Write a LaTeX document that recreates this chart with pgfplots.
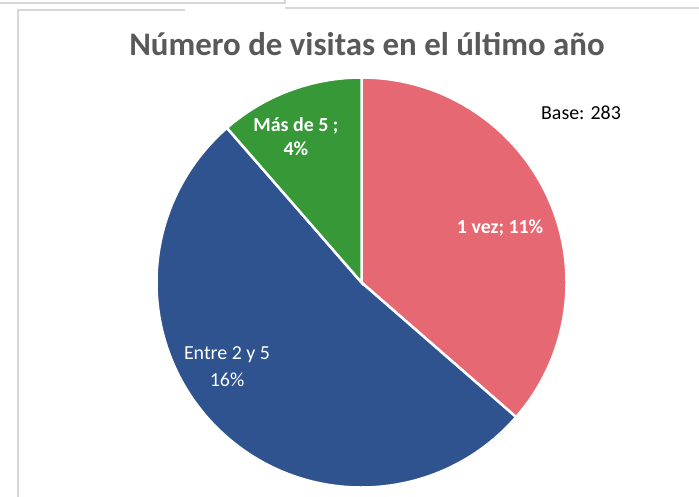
\documentclass[border=0pt]{standalone}
\usepackage{pgfplots}
\pgfplotsset{compat=1.18}
\usepackage{pgfplotstable}
\usepackage{fontspec}
\setmainfont{Carlito}
\definecolor{cRed}{RGB}{230,104,114}
\definecolor{cBlue}{RGB}{47,83,143}
\definecolor{cGreen}{RGB}{55,152,55}
\definecolor{cTitle}{RGB}{89,89,89}
\definecolor{cFrame}{RGB}{215,215,215}

% shares of the pie (percent of the circle), as drawn
\pgfplotstableread{
share
36.4
52.2
11.4
}\pietable

\pgfplotstablegetelem{0}{share}\of\pietable \let\vA\pgfplotsretval
\pgfplotstablegetelem{1}{share}\of\pietable \let\vB\pgfplotsretval
\pgfplotstablegetelem{2}{share}\of\pietable \let\vC\pgfplotsretval
\pgfmathsetmacro{\aA}{90-3.6*\vA}
\pgfmathsetmacro{\aB}{\aA-3.6*\vB}
\pgfmathsetmacro{\aC}{\aB-3.6*\vC}

\begin{document}
\begin{tikzpicture}[x=1bp,y=1bp]
\path[use as bounding box] (0,0) rectangle (699,-497);
% frame lines
\draw[cFrame, line width=1.2bp] (0,-3) -- (285,-3) -- (285,0);
\draw[cFrame, line width=1.2bp] (285,-8) -- (699,-8);
\draw[cFrame, line width=1.2bp] (185,-10) -- (18,-10) -- (18,-497);
% title
\node[anchor=base, text=cTitle, font=\fontsize{33}{38}\selectfont\bfseries, inner sep=0pt] at (367,-56) {Número de visitas en el último año};
\node[anchor=base, text=black, font=\fontsize{20}{24}\selectfont, inner sep=0pt] at (581,-120) {Base: 283};
\begin{axis}[at={(361.5bp,-282.5bp)}, anchor=center, width=410bp, height=410bp,
  scale only axis, xmin=-1, xmax=1, ymin=-1, ymax=1, hide axis, clip=false]
\addplot[draw=none] coordinates {(-1,-1) (1,1)};
\fill[cRed, draw=white, line width=2.5bp] (axis cs:0,0) -- (axis cs:0,1) arc[start angle=90, end angle=\aA, radius=205bp] -- cycle;
\fill[cBlue, draw=white, line width=2.5bp] (axis cs:0,0) -- (axis cs:{cos(\aA)},{sin(\aA)}) arc[start angle=\aA, end angle=\aB, radius=205bp] -- cycle;
\fill[cGreen, draw=white, line width=2.5bp] (axis cs:0,0) -- (axis cs:{cos(\aB)},{sin(\aB)}) arc[start angle=\aB, end angle=\aC, radius=205bp] -- cycle;
\node[text=white, font=\fontsize{20}{24}\selectfont\bfseries, align=center] at (axis cs:0.676,0.266) {1 vez; 11\%};
\node[text=white, font=\fontsize{20}{24}\selectfont\bfseries, align=center] at (axis cs:-0.32,0.71) {Más de 5 ;\\4\%};
\node[text=white, font=\fontsize{20}{27}\selectfont, align=center] at (axis cs:-0.656,-0.41) {Entre 2 y 5\\16\%};
\end{axis}
\end{tikzpicture}
\end{document}
